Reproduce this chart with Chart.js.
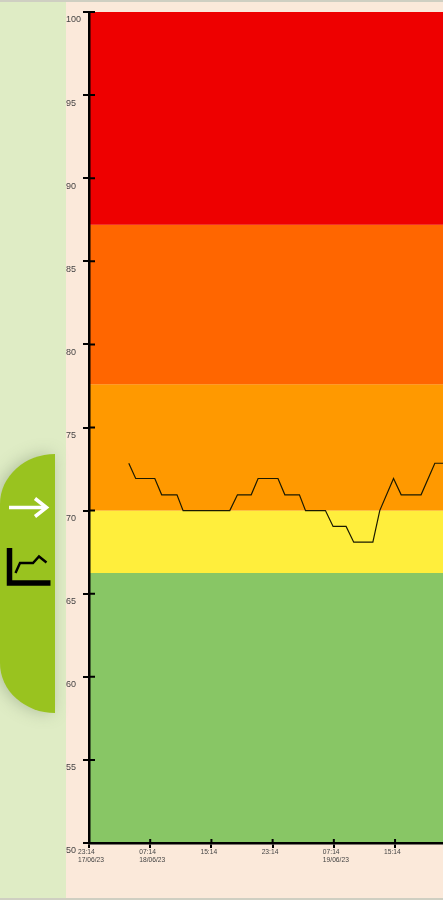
<!DOCTYPE html>
<html>
<head>
<meta charset="utf-8">
<script src="https://cdn.jsdelivr.net/npm/chart.js@4"></script>
<style>
    html, body { margin: 0; padding: 0; width: 443px; height: 900px; overflow: hidden; background: #fbe9da; }
    #side { position: absolute; left: 0; top: 0; width: 66px; height: 900px; background: #dfecc5; }
    #tab { position: absolute; left: 0; top: 454px; width: 55px; height: 259px; background: #99c31f;
           border-radius: 55px 0 0 55px / 50px 0 0 50px; box-shadow: -3px 0 16px rgba(90,110,80,0.35); }
    #icons { position: absolute; left: 0; top: 454px; }
    #edgeTop, #edgeBottom { position: absolute; left: 0; width: 443px; height: 2px; background: #cfcfc2; }
    #edgeTop { top: 0; }
    #edgeBottom { top: 898px; }
    #wrap { position: absolute; left: 66px; top: 0; width: 407px; height: 900px; filter: blur(0.35px); }
</style>
</head>
<body>
<div id="side"></div>
<div id="tab"></div>
<svg id="icons" width="55" height="140" viewBox="0 454 55 140">
    <path d="M9 507.5H44" fill="none" stroke="#fff" stroke-width="3.5"/>
    <path d="M35 498.5L46.5 507.5L35 516.5" fill="none" stroke="#fff" stroke-width="3.5"/>
    <path d="M9.5 548V583H50.5" fill="none" stroke="#000" stroke-width="5.5"/>
    <path d="M15.5 573L20 563H33L39 556.5L46.5 562.5" fill="none" stroke="#000" stroke-width="2.4"/>
</svg>
<div id="wrap"><canvas id="weight" width="407" height="900"></canvas></div>
<div id="edgeTop"></div>
<div id="edgeBottom"></div>
<script>
// hours after the first tick (23:14 17/06/23)
const hours = [5.2, 6.1, 8.6, 9.5, 11.5, 12.3, 18.4, 19.4, 21.2, 22.1, 24.7, 25.6, 27.5, 28.3, 30.9, 31.9, 33.6, 34.6, 37.1, 38.0, 39.8, 40.8, 43.4, 45.2, 46.5];
const values = [72.85, 71.93, 71.93, 70.95, 70.95, 70, 70, 70.95, 70.95, 71.93, 71.93, 70.95, 70.95, 70, 70, 69.05, 69.05, 68.1, 68.1, 70, 71.93, 70.95, 70.95, 72.85, 72.85];

const xTickLabels = [
    ["23:14", "17/06/23"],
    ["07:14", "18/06/23"],
    "15:14",
    "23:14",
    ["07:14", "19/06/23"],
    "15:14",
    "23:14"
];

// top of each zone, the zone ends at the next value down
const bandEdges = [100, 87.2, 77.6, 70, 66.25, 50];
const bandColors = ['#ee0000', '#ff6600', '#ff9900', '#ffee3c', '#88c665'];
const xEnd = 48;

const bands = bandColors.map((c, i) => ({
    type: 'line',
    data: [{x: 0, y: bandEdges[i]}, {x: xEnd, y: bandEdges[i]}],
    backgroundColor: c,
    borderWidth: 0,
    pointRadius: 0,
    fill: {value: bandEdges[i + 1]},
    order: 2
}));

// ticks cross the axis line, chart.js only draws the outer half
const innerTicks = {
    id: 'innerTicks',
    afterDatasetsDraw(chart) {
        const c = chart.ctx, x = chart.scales.x, y = chart.scales.y;
        c.save();
        c.strokeStyle = '#000';
        c.lineWidth = 2;
        c.beginPath();
        y.ticks.forEach(t => {
            const p = y.getPixelForValue(t.value);
            c.moveTo(x.left, p);
            c.lineTo(x.left + 6, p);
        });
        x.ticks.forEach(t => {
            const p = x.getPixelForValue(t.value);
            c.moveTo(p, y.bottom);
            c.lineTo(p, y.bottom - 4);
        });
        c.stroke();
        c.restore();
    }
};

new Chart(document.getElementById('weight'), {
    data: {
        datasets: [{
            type: 'line',
            data: hours.map((h, i) => ({x: h, y: values[i]})),
            borderColor: '#1a1a00',
            borderWidth: 1.2,
            pointRadius: 0,
            tension: 0,
            fill: false,
            order: 1
        }, ...bands]
    },
    plugins: [innerTicks],
    options: {
        responsive: false,
        animation: false,
        layout: {padding: {top: 12, right: 11, bottom: 0, left: 0}},
        plugins: {legend: {display: false}, tooltip: {enabled: false}},
        scales: {
            x: {
                type: 'linear',
                min: 0,
                max: xEnd,
                afterFit: s => { s.height = 57; },
                afterBuildTicks: s => { s.ticks = s.ticks.filter(t => t.value % 8 === 0); },
                border: {color: '#000', width: 2.5, z: 1},
                grid: {drawOnChartArea: false, color: '#000', lineWidth: 2, tickLength: 5, z: 1},
                ticks: {
                    stepSize: 8,
                    autoSkip: false,
                    maxRotation: 0,
                    align: 'start',
                    labelOffset: -11,
                    padding: 0,
                    color: '#444',
                    font: {family: 'Liberation Sans', size: 6.7, lineHeight: 1.25},
                    callback: (v, i) => xTickLabels[i]
                }
            },
            y: {
                min: 50,
                max: 100,
                afterFit: s => { s.width = 23; },
                border: {color: '#000', width: 2.5, z: 1},
                grid: {drawOnChartArea: false, color: '#000', lineWidth: 2, tickLength: 6, z: 1},
                ticks: {
                    stepSize: 5,
                    crossAlign: 'far',
                    labelOffset: 8,
                    color: '#444',
                    font: {family: 'Liberation Sans', size: 9}
                }
            }
        }
    }
});
</script>
</body>
</html>
